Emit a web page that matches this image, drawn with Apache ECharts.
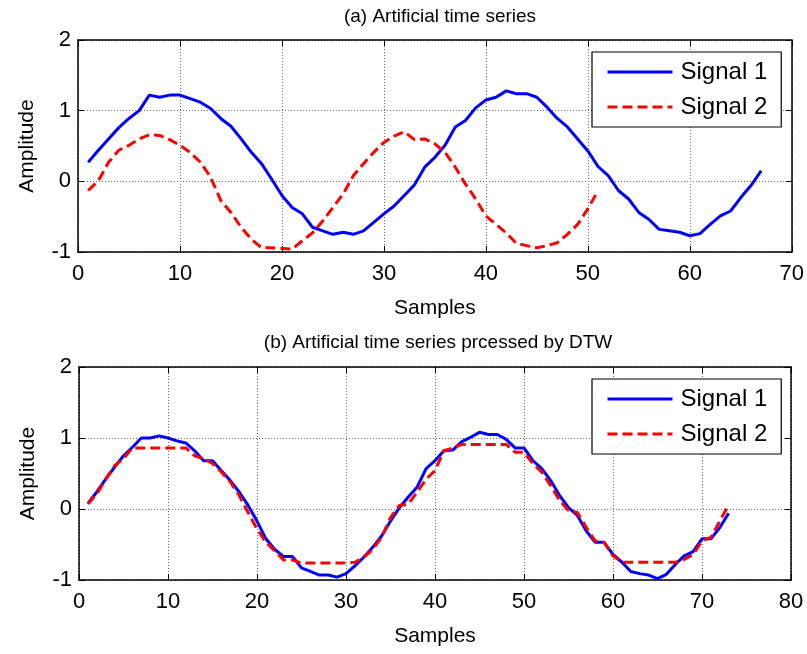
<!DOCTYPE html>
<html><head><meta charset="utf-8">
<script src="https://cdn.jsdelivr.net/npm/echarts@6/dist/echarts.min.js"></script>
<style>html,body{margin:0;padding:0;background:#fff}#c{width:807px;height:654px}</style>
</head><body><div id="c"></div>
<script>
// Top panel (a)
const topSignal1 = [0.27,0.44,0.6,0.76,0.89,1.0,1.22,1.19,1.22,1.22,1.17,1.12,1.03,0.89,0.78,0.6,0.41,0.25,0.03,-0.2,-0.37,-0.46,-0.65,-0.7,-0.75,-0.72,-0.75,-0.7,-0.58,-0.46,-0.35,-0.2,-0.05,0.2,0.34,0.51,0.77,0.86,1.04,1.15,1.19,1.28,1.24,1.24,1.19,1.05,0.89,0.77,0.6,0.43,0.21,0.08,-0.13,-0.25,-0.44,-0.54,-0.68,-0.7,-0.72,-0.77,-0.74,-0.61,-0.49,-0.42,-0.23,-0.06,0.15];
const topSignal2 = [-0.13,0.01,0.27,0.44,0.51,0.6,0.66,0.65,0.59,0.51,0.41,0.27,0.06,-0.27,-0.44,-0.65,-0.82,-0.94,-0.94,-0.95,-0.96,-0.84,-0.73,-0.56,-0.37,-0.18,0.08,0.25,0.41,0.55,0.64,0.7,0.59,0.6,0.53,0.41,0.2,-0.04,-0.25,-0.49,-0.61,-0.73,-0.88,-0.91,-0.94,-0.91,-0.87,-0.75,-0.61,-0.39,-0.13];
// Bottom panel (b)
const botSignal1 = [0.08,0.24,0.42,0.59,0.75,0.87,1.0,1.0,1.03,1.0,0.96,0.93,0.82,0.68,0.68,0.54,0.4,0.24,0.05,-0.17,-0.42,-0.57,-0.67,-0.67,-0.83,-0.88,-0.93,-0.93,-0.96,-0.91,-0.8,-0.68,-0.54,-0.38,-0.17,0.02,0.17,0.31,0.57,0.68,0.82,0.83,0.95,1.01,1.08,1.05,1.05,0.98,0.86,0.86,0.68,0.57,0.4,0.19,0.02,-0.09,-0.31,-0.47,-0.47,-0.64,-0.75,-0.88,-0.91,-0.93,-0.98,-0.92,-0.78,-0.66,-0.6,-0.42,-0.42,-0.26,-0.06];
const botSignal2 = [0.07,0.21,0.42,0.61,0.71,0.86,0.86,0.86,0.86,0.86,0.86,0.86,0.75,0.71,0.64,0.52,0.38,0.19,-0.05,-0.28,-0.47,-0.59,-0.72,-0.72,-0.76,-0.76,-0.76,-0.76,-0.76,-0.76,-0.75,-0.68,-0.57,-0.4,-0.12,0.05,0.07,0.24,0.42,0.54,0.82,0.86,0.91,0.91,0.91,0.91,0.91,0.91,0.8,0.8,0.64,0.52,0.33,0.12,-0.02,-0.05,-0.26,-0.45,-0.47,-0.66,-0.75,-0.75,-0.75,-0.75,-0.75,-0.75,-0.75,-0.71,-0.64,-0.45,-0.4,-0.17,0.06];
const yTicks = [-1, 0, 1, 2];
const titles = ['(a) Artificial time series', '(b) Artificial time series prcessed by DTW'];
const seriesNames = ['Signal 1', 'Signal 2'];

const toXY = arr => arr.map((v, i) => [i + 1, v]);
const FONT = 'Liberation Sans, Arial, sans-serif';
const grids = [
  {left: 78, right: 15, top: 40, height: 212},
  {left: 79, right: 16, top: 367, height: 213}
];
const xMax = [70, 80];
const gridLine = {show: true, lineStyle: {color: '#666', type: [1, 2], width: 1}};

const xAxis = [], yAxis = [];
grids.forEach((g, i) => {
  xAxis.push({
    gridIndex: i, type: 'value', min: 0, max: xMax[i], interval: 10, position: 'bottom',
    axisLine: {show: true, onZero: false, lineStyle: {color: '#000', width: 1.5}},
    axisTick: {show: true, inside: true, length: 6, lineStyle: {color: '#000'}},
    axisLabel: {color: '#000', fontSize: 22, fontFamily: FONT, margin: 11},
    splitLine: gridLine,
    name: 'Samples', nameLocation: 'middle', nameGap: 46,
    nameTextStyle: {color: '#000', fontSize: 21, fontFamily: FONT}
  });
  xAxis.push({
    gridIndex: i, type: 'value', min: 0, max: xMax[i], interval: 10, position: 'top',
    axisLine: {show: true, onZero: false, lineStyle: {color: '#000', width: 1.5}},
    axisTick: {show: true, inside: true, length: 6, lineStyle: {color: '#000'}},
    axisLabel: {show: false}, splitLine: {show: false}
  });
  yAxis.push({
    gridIndex: i, type: 'value', min: -1, max: 2, interval: 1, position: 'left',
    axisLine: {show: true, onZero: false, lineStyle: {color: '#000', width: 1.5}},
    axisTick: {show: true, inside: true, length: 6, lineStyle: {color: '#000'}},
    axisLabel: {color: '#000', fontSize: 22, fontFamily: FONT, margin: 7,
      formatter: v => yTicks.includes(v) ? String(v) : ''},
    splitLine: gridLine,
    name: 'Amplitude', nameLocation: 'middle', nameGap: 40, nameRotate: 90,
    nameTextStyle: {color: '#000', fontSize: 21, fontFamily: FONT}
  });
  yAxis.push({
    gridIndex: i, type: 'value', min: -1, max: 2, interval: 1, position: 'right',
    axisLine: {show: true, onZero: false, lineStyle: {color: '#000', width: 1.5}},
    axisTick: {show: true, inside: true, length: 6, lineStyle: {color: '#000'}},
    axisLabel: {show: false}, splitLine: {show: false}
  });
});

const blue = {color: '#0000ff', width: 3, type: 'solid'};
const red = {color: '#ff0000', width: 3, type: [10, 5]};
const mk = (name, data, gi, ls) => ({
  name, type: 'line', data: toXY(data), xAxisIndex: gi * 2, yAxisIndex: gi * 2,
  showSymbol: false, symbol: 'none', lineStyle: ls, itemStyle: {color: ls.color},
  animation: false, z: 5
});

const legendBase = {
  orient: 'vertical', left: 592, itemWidth: 65, itemHeight: 14, itemGap: 11,
  padding: [8, 14, 8, 14], borderColor: '#000', borderWidth: 1.2, backgroundColor: '#fff',
  itemStyle: {opacity: 0},
  lineStyle: {width: 3},
  textStyle: {color: '#000', fontSize: 24, fontFamily: FONT, padding: [0, 0, 0, 3]},
  data: seriesNames
};

const option = {
  animation: false,
  backgroundColor: '#fff',
  title: [
    {text: titles[0], left: 435, top: 2, textAlign: 'center',
     textStyle: {color: '#000', fontSize: 19, fontWeight: 'normal', fontFamily: FONT}},
    {text: titles[1], left: 433, top: 328, textAlign: 'center',
     textStyle: {color: '#000', fontSize: 19, fontWeight: 'normal', fontFamily: FONT}}
  ],
  legend: [
    Object.assign({}, legendBase, {top: 52}),
    Object.assign({}, legendBase, {top: 379})
  ],
  grid: grids,
  xAxis, yAxis,
  series: [
    mk(seriesNames[0], topSignal1, 0, blue),
    mk(seriesNames[1], topSignal2, 0, red),
    mk(seriesNames[0], botSignal1, 1, blue),
    mk(seriesNames[1], botSignal2, 1, red)
  ]
};
const chart = echarts.init(document.getElementById('c'), null, {renderer: 'canvas'});
chart.setOption(option);
</script></body></html>
